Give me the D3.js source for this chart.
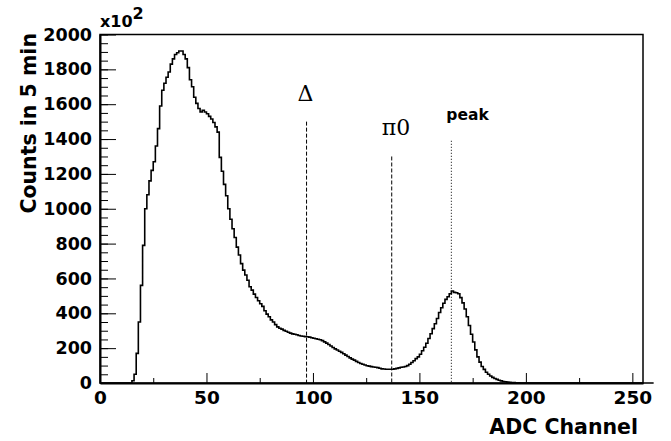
<!DOCTYPE html>
<html>
<head>
<meta charset="utf-8">
<script src="https://cdn.jsdelivr.net/npm/d3@7"></script>
<style>
  body { margin: 0; background: #fff; }
  svg { display: block; }
  .tick text { font-family: "DejaVu Sans", sans-serif; font-weight: bold; }
  .label { font-family: "DejaVu Sans", sans-serif; font-weight: bold; fill: #000; }
  .greek { font-family: "DejaVu Serif", serif; fill: #000; }
</style>
</head>
<body>
<svg width="671" height="441"></svg>
<script>
// counts per ADC channel (bin i = channel i), in units of x10^2
const counts = [
  0, 0, 0, 0, 0, 0, 0, 0, 0, 0, 0, 0, 0, 0, 0,
  13, 50, 170, 350, 560, 790, 1000, 1080, 1160, 1220,
  1270, 1360, 1460, 1590, 1680, 1720, 1755, 1785, 1830, 1860,
  1885, 1895, 1905, 1905, 1885, 1860, 1810, 1740, 1700, 1640,
  1605, 1575, 1555, 1565, 1555, 1545, 1530, 1515, 1495, 1470,
  1440, 1295, 1215, 1140, 1075, 1000, 940, 885, 835, 780,
  735, 685, 648, 620, 590, 552, 533, 510, 491, 472,
  455, 440, 415, 395, 380, 362, 350, 335, 322, 314,
  309, 302, 297, 291, 286, 282, 280, 277, 273, 270,
  268, 266, 265, 263, 260, 257, 254, 251, 248, 243,
  236, 229, 221, 212, 204, 196, 189, 182, 176, 168,
  160, 152, 144, 137, 131, 124, 118, 112, 108, 103,
  99, 97, 94, 92, 90, 88, 85, 81, 80, 79,
  79, 79, 79, 81, 84, 87, 90, 92, 95, 100,
  108, 118, 128, 140, 150, 165, 185, 205, 228, 255,
  283, 312, 340, 370, 405, 432, 458, 480, 495, 512,
  528, 520, 518, 512, 490, 460, 425, 380, 330, 280,
  235, 190, 150, 120, 95, 78, 62, 50, 40, 32,
  26, 21, 16, 12, 9, 7, 5, 4, 3, 2,
  1, 1, 0, 0, 0, 0, 0, 0, 0, 0,
  0, 0, 0, 0, 0, 0, 0, 0, 0, 0,
  0, 0, 0, 0, 0, 0, 0, 0, 0, 0,
  0, 0, 0, 0, 0, 0, 0, 0, 0, 0,
  0, 0, 0, 0, 0, 0, 0, 0, 0, 0,
  0, 0, 0, 0, 0, 0, 0, 0, 0, 0,
  0, 0, 0, 0, 0
];

// marker lines: channel, height (x10^2), label
const markerLabels = ["\u0394", "\u03c00", "peak"];
const markerChannels = [97, 137, 165];
const markerTops = [1500, 1300, 1390];

const xTicks = [0, 50, 100, 150, 200, 250];
const yTicks = [0, 200, 400, 600, 800, 1000, 1200, 1400, 1600, 1800, 2000];

const svg = d3.select('svg');
const frameLeft = 100, frameRight = 643, frameTop = 34.5, frameBottom = 383;

const x = d3.scaleLinear().domain([0, 255]).range([frameLeft, frameRight]);
const y = d3.scaleLinear().domain([0, 2000]).range([frameBottom, frameTop]);

// frame
svg.append('rect')
  .attr('x', frameLeft).attr('y', frameTop)
  .attr('width', frameRight - frameLeft).attr('height', frameBottom - frameTop)
  .attr('fill', 'none').attr('stroke', '#000').attr('stroke-width', 1.5);

// minor ticks
svg.append('g')
  .attr('transform', `translate(${frameLeft},0)`)
  .call(d3.axisLeft(y).tickValues(d3.range(0, 2001, 50)).tickSize(-8).tickFormat(''))
  .call(g => g.select('.domain').remove());

svg.append('g')
  .attr('transform', `translate(0,${frameBottom})`)
  .call(d3.axisBottom(x).tickValues(d3.range(25, 255, 50)).tickSize(-5).tickFormat(''))
  .call(g => g.select('.domain').remove());

// major axes
svg.append('g')
  .attr('transform', `translate(${frameLeft},0)`)
  .call(d3.axisLeft(y).tickValues(yTicks).tickFormat(d3.format('d'))
    .tickSize(-16).tickSizeOuter(0).tickPadding(8))
  .call(g => g.select('.domain').attr('stroke-width', 2))
  .call(g => g.selectAll('.tick text').attr('font-size', 17.5));

svg.append('g')
  .attr('transform', `translate(0,${frameBottom})`)
  .call(d3.axisBottom(x).tickValues(xTicks).tickFormat(d3.format('d'))
    .tickSize(-10).tickSizeOuter(0).tickPadding(8))
  .call(g => g.select('.domain').attr('stroke-width', 2))
  .call(g => g.selectAll('.tick text').attr('font-size', 18.5));

svg.selectAll('.tick line').attr('stroke', '#000');

// histogram
const pts = counts.map((c, i) => [i, c]);
pts.push([counts.length, 0]);

svg.append('path')
  .datum(pts)
  .attr('fill', 'none')
  .attr('stroke', '#000')
  .attr('stroke-width', 1.6)
  .attr('d', d3.line().x(d => x(d[0])).y(d => y(d[1])).curve(d3.curveStepAfter));

// markers
const dash = ['4,2', '4,2', '1,2'];
const labelDx = [-9, -10, -5];
markerChannels.forEach((ch, i) => {
  svg.append('line')
    .attr('x1', x(ch)).attr('x2', x(ch))
    .attr('y1', y(markerTops[i])).attr('y2', frameBottom)
    .attr('stroke', '#000').attr('stroke-width', 1)
    .attr('stroke-dasharray', dash[i]);

  svg.append('text')
    .attr('class', i < 2 ? 'greek' : 'label')
    .attr('x', x(ch) + labelDx[i])
    .attr('y', y(markerTops[i]) - 21)
    .attr('font-size', i < 2 ? 22 : 15.5)
    .text(markerLabels[i]);
});

// axis titles
svg.append('text')
  .attr('class', 'label')
  .attr('transform', 'translate(36,33) rotate(-90)')
  .attr('text-anchor', 'end')
  .attr('font-size', 20.5)
  .text('Counts in 5 min');

svg.append('text')
  .attr('class', 'label')
  .attr('x', 638).attr('y', 434)
  .attr('text-anchor', 'end')
  .attr('font-size', 20.5)
  .text('ADC Channel');

const exp = svg.append('text')
  .attr('class', 'label')
  .attr('x', 100).attr('y', 27)
  .attr('font-size', 16);
exp.append('tspan').text('x10');
exp.append('tspan').attr('dy', -8).text('2');
</script>
</body>
</html>
